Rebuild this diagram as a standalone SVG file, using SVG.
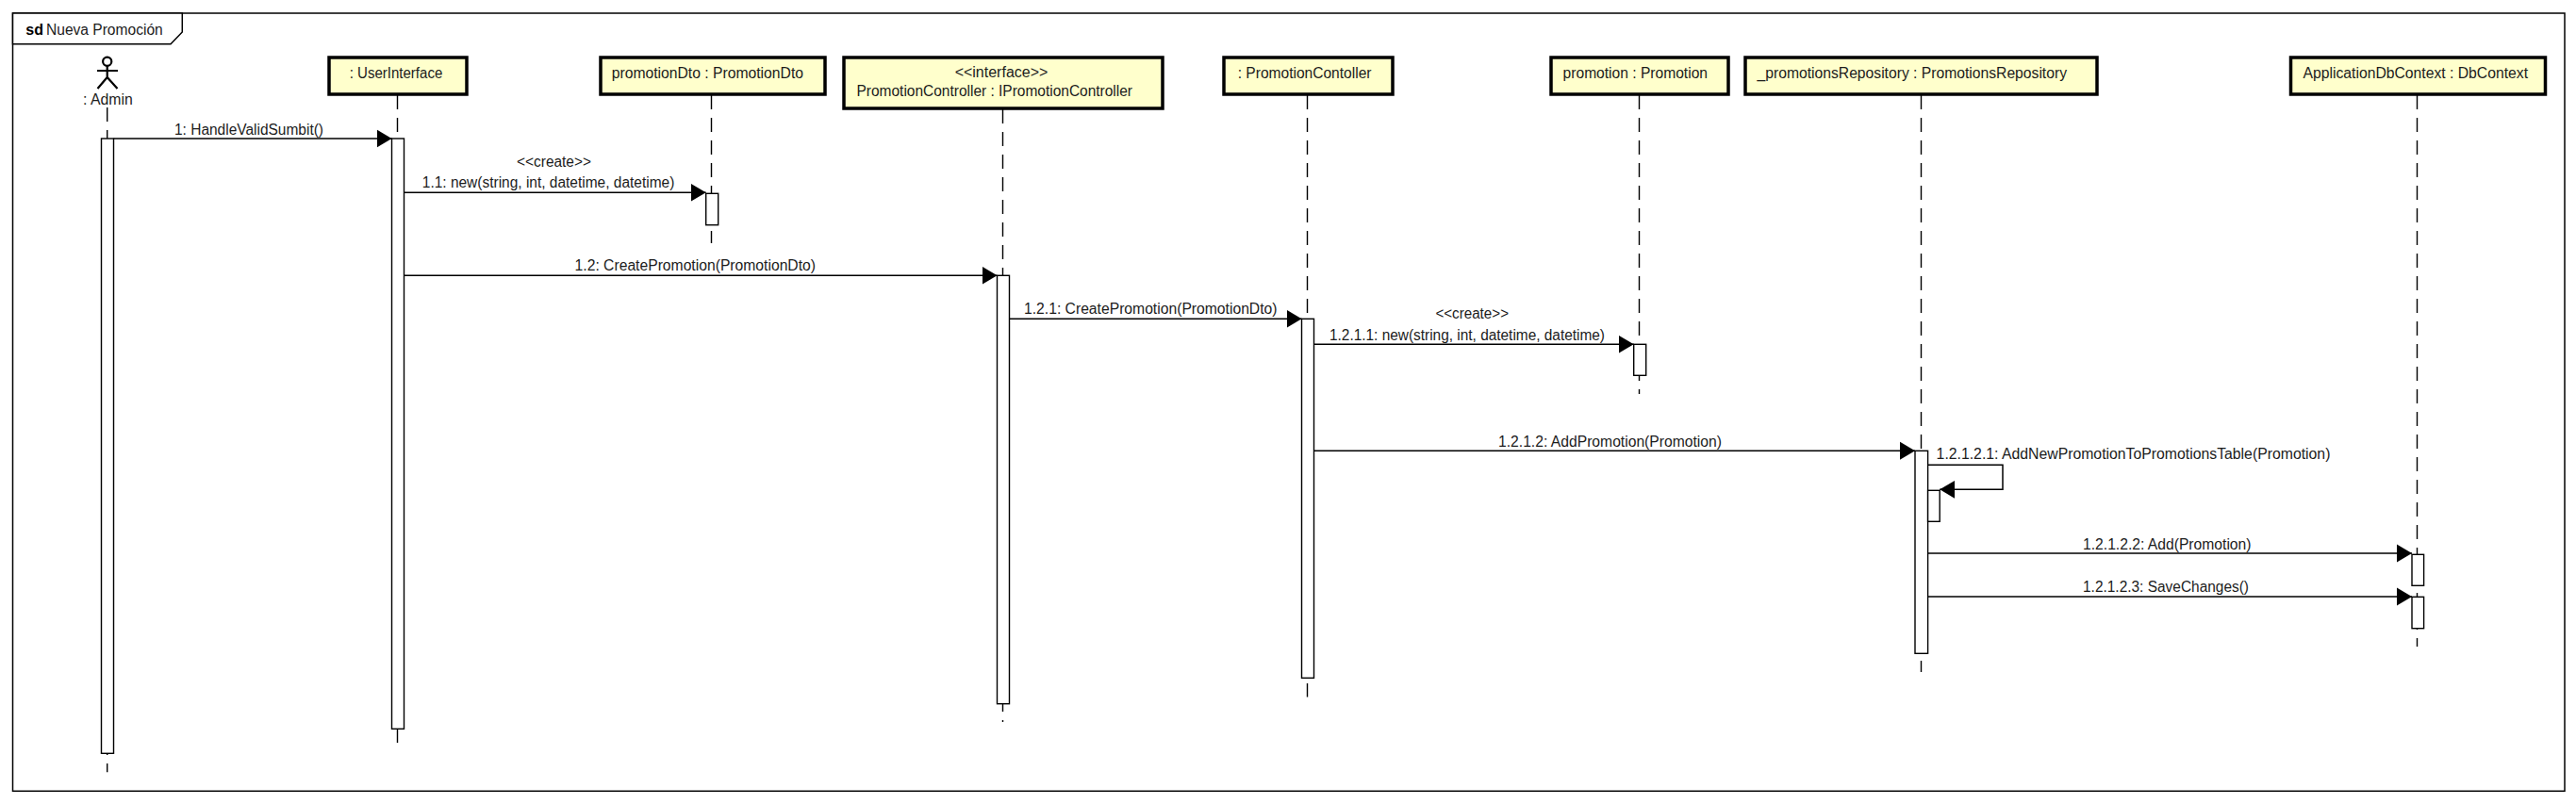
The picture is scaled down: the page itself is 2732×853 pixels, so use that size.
<svg xmlns="http://www.w3.org/2000/svg" width="2732" height="853" viewBox="0 0 2732 853">
<style>
text{font-family:"Liberation Sans",Arial,sans-serif;font-size:16px;fill:#1c1c1c}
.frame{fill:none;stroke:#000;stroke-width:1.5}
.tab{fill:#fff;stroke:#000;stroke-width:1.5}
.box{fill:#ffffcc;stroke:#000;stroke-width:3.5}
.life{fill:none;stroke:#000;stroke-width:1.4;stroke-dasharray:15 9}
.act{fill:#fff;stroke:#000;stroke-width:1.4}
.msg{fill:none;stroke:#000;stroke-width:1.5;marker-end:url(#arrow)}
.actor{fill:none;stroke:#000;stroke-width:2.2}
</style>
<defs>
<marker id="arrow" markerUnits="userSpaceOnUse" markerWidth="17" markerHeight="20" refX="16" refY="10" orient="auto">
<path d="M0,0.5 L16,10 L0,19.5 Z" fill="#000"/>
</marker>
</defs>
<rect width="2732" height="853" fill="#fff"/>
<g id="frame">
<rect class="frame" x="13.5" y="14" width="2706.5" height="825.3"/>
<path class="tab" d="M13.5,14 H193.3 V34 L181,46.7 H13.5 Z"/>
<text x="27.3" y="37.3" style="font-weight:bold;fill:#000">sd</text>
<text x="49" y="37.3" textLength="123.7" lengthAdjust="spacingAndGlyphs">Nueva Promoción</text>
</g>
<g id="admin">
<circle class="actor" cx="113.7" cy="65.2" r="4.6"/>
<path class="actor" d="M113.7,70 V82 M103,75 H125 M103.5,94 L113.7,82 L124.5,94"/>
<text x="88" y="111.3" textLength="52.7" lengthAdjust="spacingAndGlyphs">: Admin</text>
<line class="life" x1="113.7" y1="114" x2="113.7" y2="819.3"/>
<rect class="act" x="107.5" y="147" width="13" height="652.3"/>
</g>
<g id="userInterface">
<rect class="box" x="349" y="61" width="146" height="39"/>
<text x="370.7" y="83.3" textLength="98.6" lengthAdjust="spacingAndGlyphs">: UserInterface</text>
<line class="life" x1="421.5" y1="101" x2="421.5" y2="788.3"/>
<rect class="act" x="415.5" y="147" width="13" height="626.3"/>
</g>
<g id="promotionDto">
<rect class="box" x="637" y="61" width="238" height="39"/>
<text x="648.7" y="83.3" textLength="203.3" lengthAdjust="spacingAndGlyphs">promotionDto : PromotionDto</text>
<line class="life" x1="754.5" y1="101" x2="754.5" y2="258"/>
<rect class="act" x="748.7" y="205.3" width="13" height="33.4"/>
</g>
<g id="promotionController">
<rect class="box" x="895" y="61" width="338" height="54"/>
<text x="1062" y="81.7" text-anchor="middle">&lt;&lt;interface&gt;&gt;</text>
<text x="908.5" y="101.7" textLength="292.5" lengthAdjust="spacingAndGlyphs">PromotionController : IPromotionController</text>
<line class="life" x1="1063.5" y1="116" x2="1063.5" y2="766"/>
<rect class="act" x="1057.5" y="292.3" width="13" height="454.4"/>
</g>
<g id="promotionContoller">
<rect class="box" x="1298" y="61" width="179" height="39"/>
<text x="1312.7" y="83.3" textLength="141.8" lengthAdjust="spacingAndGlyphs">: PromotionContoller</text>
<line class="life" x1="1386.5" y1="101" x2="1386.5" y2="739.5"/>
<rect class="act" x="1380.5" y="338.3" width="13" height="381"/>
</g>
<g id="promotion">
<rect class="box" x="1645" y="61" width="188" height="39"/>
<text x="1657.6" y="83.3" textLength="153.4" lengthAdjust="spacingAndGlyphs">promotion : Promotion</text>
<line class="life" x1="1738.5" y1="101" x2="1738.5" y2="418"/>
<rect class="act" x="1732.7" y="365.3" width="13" height="33"/>
</g>
<g id="promotionsRepository">
<rect class="box" x="1851" y="61" width="373" height="39"/>
<text x="1863.6" y="83.3" textLength="328.4" lengthAdjust="spacingAndGlyphs">_promotionsRepository : PromotionsRepository</text>
<line class="life" x1="2037.5" y1="101" x2="2037.5" y2="713"/>
<rect class="act" x="2031" y="478.3" width="13.6" height="215"/>
<rect class="act" x="2044.6" y="520.3" width="12.6" height="33"/>
</g>
<g id="applicationDbContext">
<rect class="box" x="2429.5" y="61" width="270" height="39"/>
<text x="2442.5" y="83.3" textLength="238.5" lengthAdjust="spacingAndGlyphs">ApplicationDbContext : DbContext</text>
<line class="life" x1="2563.5" y1="101" x2="2563.5" y2="686"/>
<rect class="act" x="2558" y="588.3" width="12.6" height="33"/>
<rect class="act" x="2558" y="633.3" width="12.6" height="33.4"/>
</g>
<g id="connectors">
<path class="msg" d="M120.5,147 H415.5"/>
<text x="185" y="143.3" textLength="158" lengthAdjust="spacingAndGlyphs">1: HandleValidSumbit()</text>
<path class="msg" d="M428.5,204.3 H748.7"/>
<text x="548" y="176.7" textLength="79" lengthAdjust="spacingAndGlyphs">&lt;&lt;create&gt;&gt;</text>
<text x="447.8" y="199.3" textLength="267.5" lengthAdjust="spacingAndGlyphs">1.1: new(string, int, datetime, datetime)</text>
<path class="msg" d="M428.5,292.3 H1057.5"/>
<text x="609.6" y="287.3" textLength="255.4" lengthAdjust="spacingAndGlyphs">1.2: CreatePromotion(PromotionDto)</text>
<path class="msg" d="M1070.5,338.3 H1380.5"/>
<text x="1086" y="332.7" textLength="268.5" lengthAdjust="spacingAndGlyphs">1.2.1: CreatePromotion(PromotionDto)</text>
<path class="msg" d="M1393.5,365.3 H1732.7"/>
<text x="1522.4" y="337.7" textLength="77.6" lengthAdjust="spacingAndGlyphs">&lt;&lt;create&gt;&gt;</text>
<text x="1410" y="360.7" textLength="292" lengthAdjust="spacingAndGlyphs">1.2.1.1: new(string, int, datetime, datetime)</text>
<path class="msg" d="M1393.5,478.3 H2031"/>
<text x="1589" y="474" textLength="237" lengthAdjust="spacingAndGlyphs">1.2.1.2: AddPromotion(Promotion)</text>
<path class="msg" d="M2044.6,493.3 H2124 V519.3 H2057.2"/>
<text x="2053.6" y="487.3" textLength="417.8" lengthAdjust="spacingAndGlyphs">1.2.1.2.1: AddNewPromotionToPromotionsTable(Promotion)</text>
<path class="msg" d="M2044.6,587 H2558"/>
<text x="2209" y="582.7" textLength="178.5" lengthAdjust="spacingAndGlyphs">1.2.1.2.2: Add(Promotion)</text>
<path class="msg" d="M2044.6,633 H2558"/>
<text x="2209" y="628.3" textLength="176" lengthAdjust="spacingAndGlyphs">1.2.1.2.3: SaveChanges()</text>
</g>
</svg>
